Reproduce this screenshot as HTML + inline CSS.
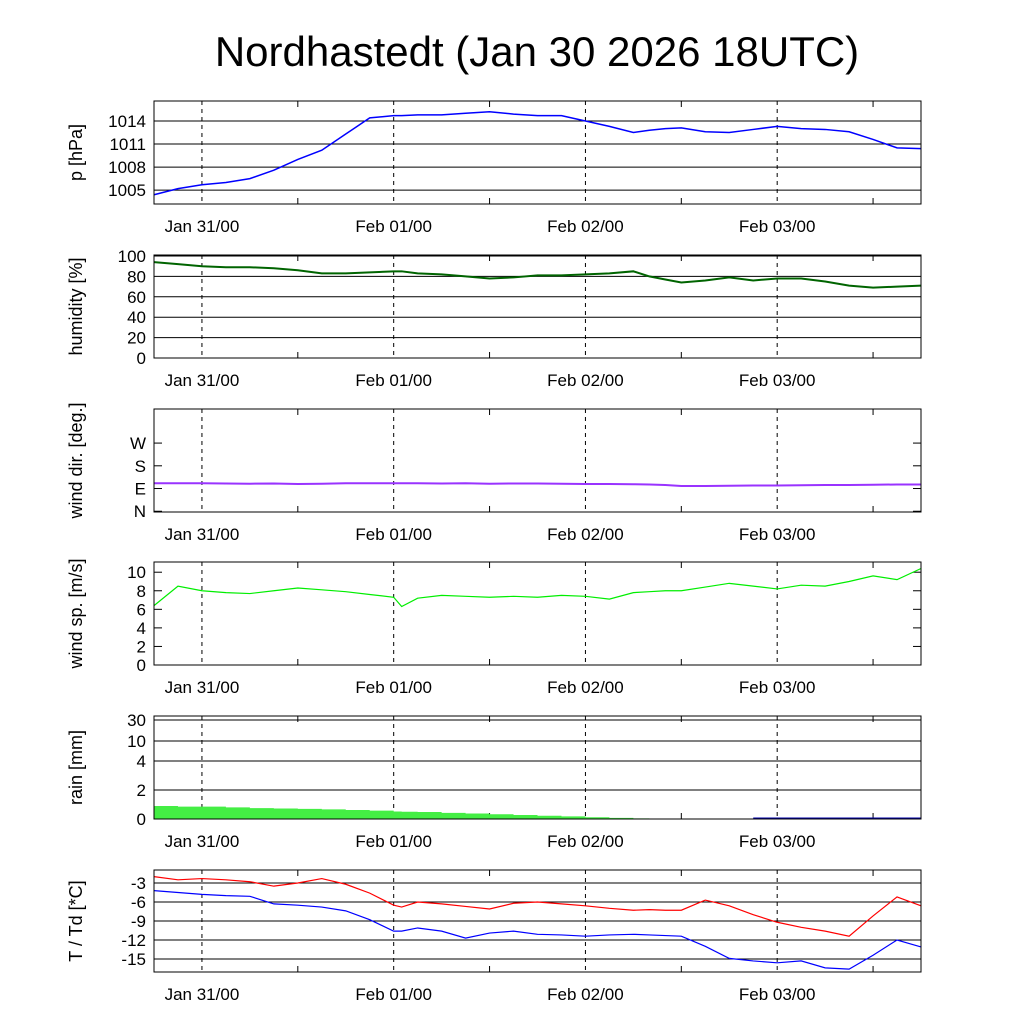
<!DOCTYPE html>
<html><head><meta charset="utf-8"><style>
body{margin:0;background:#fff;}
svg{display:block;font-family:"Liberation Sans",sans-serif;}
</style></head><body>
<svg id="c" width="1024" height="1024">
<text x="537" y="66" text-anchor="middle" font-size="42">Nordhastedt (Jan 30 2026 18UTC)</text>
</svg>
<script>
const hours=[0,3,6,9,12,15,18,21,24,27,30,31,33,36,39,42,45,48,51,54,57,60,62,64,66,69,72,75,78,81,84,87,90,93,96];
const pres=[1004.4,1005.2,1005.7,1006.0,1006.5,1007.6,1009.0,1010.2,1012.3,1014.4,1014.7,1014.7,1014.8,1014.8,1015.0,1015.2,1014.9,1014.7,1014.7,1014.0,1013.3,1012.5,1012.8,1013.0,1013.1,1012.6,1012.5,1012.9,1013.3,1013.0,1012.9,1012.6,1011.6,1010.5,1010.4];
const humid=[94,92,90,89,89,88,86,83,83,84,85,85,83,82,80,78,79,81,81,82,83,85,80,77,74,76,79,76,78,78,75,71,69,70,71];
const wdir=[111,111,111,110,109,110,108,109,111,111,111,111,111,110,111,109,110,110,109,108,108,107,106,104,100,100,101,102,102,103,104,104,105,106,106];
const wspd=[6.4,8.5,8.0,7.8,7.7,8.0,8.3,8.1,7.9,7.6,7.3,6.3,7.2,7.5,7.4,7.3,7.4,7.3,7.5,7.4,7.1,7.8,7.9,8.0,8.0,8.4,8.8,8.5,8.2,8.6,8.5,9.0,9.6,9.2,10.4];
const rain=[0.9,0.85,0.85,0.8,0.75,0.72,0.7,0.66,0.62,0.58,0.52,0.5,0.48,0.42,0.38,0.33,0.28,0.22,0.18,0.12,0.08,0.04,0.02,0,0,0,0,0,0,0,0,0,0,0,0];
const temp=[-2.0,-2.5,-2.3,-2.5,-2.8,-3.5,-3.0,-2.3,-3.2,-4.6,-6.5,-6.8,-6.0,-6.3,-6.7,-7.1,-6.2,-6.0,-6.3,-6.6,-7.0,-7.3,-7.2,-7.3,-7.3,-5.7,-6.6,-8.0,-9.2,-10.0,-10.6,-11.4,-8.2,-5.2,-6.6];
const dewp=[-4.2,-4.5,-4.8,-5.0,-5.1,-6.3,-6.5,-6.8,-7.4,-8.8,-10.6,-10.6,-10.1,-10.6,-11.7,-10.9,-10.6,-11.1,-11.2,-11.4,-11.2,-11.1,-11.2,-11.3,-11.4,-13.0,-14.9,-15.3,-15.6,-15.3,-16.4,-16.6,-14.4,-12.0,-13.1];
const xLabels=["Jan 31/00","Feb 01/00","Feb 02/00","Feb 03/00"];

const svg=document.getElementById('c');const NS="http://www.w3.org/2000/svg";
const X0=154,X1=921,HMAX=96;
const xs=h=>X0+(X1-X0)*h/HMAX;
function el(t,a,p){const e=document.createElementNS(NS,t);for(const k in a)e.setAttribute(k,a[k]);(p||svg).appendChild(e);return e;}
function panel(name,top,bot,ymin,ymax,ticks,tickLabels,ytitle,yfun,grid){
  if(grid===undefined)grid=true;
  const g=el('g',{});
  
  
  const ys=yfun||(v=>bot-(v-ymin)/(ymax-ymin)*(bot-top));
  ticks.forEach((t,i)=>{const y=ys(t);
    if(grid) el('line',{x1:X0,x2:X1,y1:y,y2:y,stroke:'#000','stroke-width':1},g);
    else {el('line',{x1:X0,x2:X0+8,y1:y,y2:y,stroke:'#000'},g);el('line',{x1:X1-8,x2:X1,y1:y,y2:y,stroke:'#000'},g);}
    const tx=el('text',{x:X0-8,y:y+6,'text-anchor':'end','font-size':17},g);tx.textContent=tickLabels[i];
    });
  for(let d=1;d<=4;d++){const x=xs(6+24*(d-1));
    el('line',{x1:x,x2:x,y1:top,y2:bot,stroke:'#000','stroke-dasharray':'4,4'},g);
    const m=xs(18+24*(d-1));
    el('line',{x1:m,x2:m,y1:top,y2:top+6,stroke:'#000'},g);el('line',{x1:m,x2:m,y1:bot,y2:bot-6,stroke:'#000'},g);
    const tx=el('text',{x:x,y:bot+28,'text-anchor':'middle','font-size':17},g);tx.textContent=xLabels[d-1];
    }
  const yt=el('text',{transform:`translate(82,${(top+bot)/2}) rotate(-90)`,'text-anchor':'middle','font-size':18},g);
  yt.textContent=ytitle;
  return {g,ys,top,bot};
}
function frame(p){el('rect',{x:X0,y:p.top,width:X1-X0,height:p.bot-p.top,fill:'none',stroke:'#000'},p.g);}
function line(p,vals,color,name,w){const pts=hours.map((h,i)=>xs(h)+','+p.ys(vals[i])).join(' ');
  const l=el('polyline',{points:pts,fill:'none',stroke:color,'stroke-width':w||1.5},p.g);
  }

let p=panel('pressure',101,204,1003.2,1016.6,[1005,1008,1011,1014],['1005','1008','1011','1014'],'p [hPa]');
line(p,pres,'#0000ff','pressure-line');frame(p);
p=panel('humidity',255,358,0,101,[0,20,40,60,80,100],['0','20','40','60','80','100'],'humidity [%]');
line(p,humid,'#006400','humidity-line',2);frame(p);
p=panel('wind-dir',409,512,-3,405,[0,90,180,270],['N','E','S','W'],'wind dir. [deg.]',null,false);
line(p,wdir,'#9933ff','wind-direction-line',2);frame(p);
p=panel('wind-speed',562,665,0,11.1,[0,2,4,6,8,10],['0','2','4','6','8','10'],'wind sp. [m/s]',null,false);
line(p,wspd,'#00ee00','wind-speed-line',1.2);frame(p);
const rainMap=v=>{const pts=[[0,819],[2,790],[4,761],[10,741],[30,720]];for(let i=1;i<pts.length;i++){if(v<=pts[i][0]){const a=pts[i-1],b=pts[i];return a[1]+(v-a[0])/(b[0]-a[0])*(b[1]-a[1]);}}return 716;};
p=panel('rain',716,819,0,30,[0,2,4,10,30],['0','2','4','10','30'],'rain [mm]',rainMap);
{let d='M'+xs(0)+',819';hours.forEach((h,i)=>{const x=xs(h),nx=i<hours.length-1?xs(hours[i+1]):X1;d+=` L${x},${rainMap(rain[i])} L${nx},${rainMap(rain[i])}`;});d+=` L${X1},819 Z`;
const a=el('path',{d:d,fill:'#44ee44'},p.g);
const b=el('line',{x1:xs(75),x2:X1,y1:818.5,y2:818.5,stroke:'#0000aa','stroke-width':2},p.g);}
frame(p);
p=panel('temperature',870,972,-17.05,-0.95,[-3,-6,-9,-12,-15],['-3','-6','-9','-12','-15'],'T / Td [*C]');
line(p,temp,'#ff0000','temperature-line',1.2);line(p,dewp,'#0000ff','dewpoint-line',1.2);frame(p);
</script>
</body></html>
